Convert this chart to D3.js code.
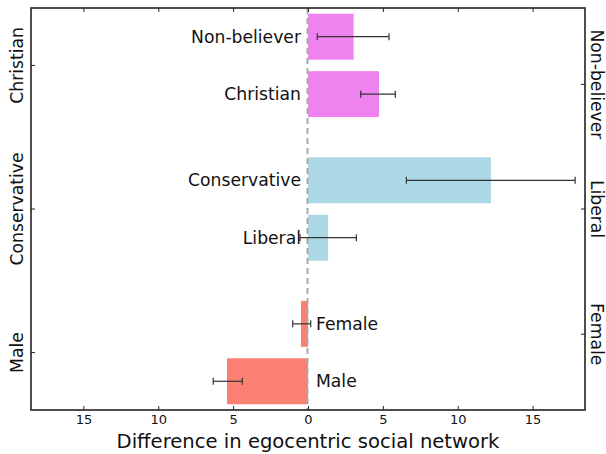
<!DOCTYPE html>
<html><head><meta charset="utf-8">
<script src="https://cdn.jsdelivr.net/npm/d3@7"></script>
<style>body{margin:0;background:#fff}svg{display:block}text{font-family:"DejaVu Sans",sans-serif;fill:#111}</style>
</head><body>
<script>
const categories = ["Male","Female","Liberal","Conservative","Christian","Non-believer"];
const positions = [0,1,2.5,3.5,5,6];
const values = [-5.41,-0.47,1.34,12.22,4.74,3.05];
const errLow = [-6.33,-1.02,-0.53,6.57,3.52,0.62];
const errHigh = [-4.39,0.18,3.23,17.84,5.83,5.41];
const groups = ["gender","gender","politics","politics","religion","religion"];
const groupColors = {gender:"#FA8072",politics:"#ADD8E6",religion:"#EE82EE"};
const xTicks = [-15,-10,-5,0,5,10,15];
const leftTickLabels = ["Male","Conservative","Christian"];
const leftTickPos = [0.5,3.0,5.5];
const rightTickLabels = ["Female","Liberal","Non-believer"];
const rightTickPos = [0.82,3.0,5.17];
const xLabel = "Difference in egocentric social network";

const W=606,H=454;
const m={l:31,r:21,t:8,b:44};
const svg=d3.select("body").append("svg").attr("width",W).attr("height",H);
const x=d3.scaleLinear().domain([-18.5,18.5]).range([m.l,W-m.r]);
const y=d3.scaleLinear().domain([-0.5,6.5]).range([H-m.b,m.t]);
const bh=y(0)-y(0.8);

const g=svg.append("g");
// bars
g.selectAll("rect.bar").data(categories).join("rect")
 .attr("x",(d,i)=>x(Math.min(0,values[i])))
 .attr("width",(d,i)=>Math.abs(x(values[i])-x(0)))
 .attr("y",(d,i)=>y(positions[i])-bh/2)
 .attr("height",bh)
 .attr("fill",(d,i)=>groupColors[groups[i]]);
// zero dashed line
g.append("line").attr("x1",x(0)-0.5).attr("x2",x(0)-0.5).attr("y1",m.t).attr("y2",H-m.b)
 .attr("stroke","#aaa").attr("stroke-width",2).attr("stroke-dasharray","6,4");
// error bars
const eb=g.selectAll("g.eb").data(categories).join("g");
eb.append("line").attr("x1",(d,i)=>x(errLow[i])).attr("x2",(d,i)=>x(errHigh[i]))
 .attr("y1",(d,i)=>y(positions[i])).attr("y2",(d,i)=>y(positions[i])).attr("stroke","#333").attr("stroke-width",1.2);
[errLow,errHigh].forEach(arr=>{
 eb.append("line").attr("x1",(d,i)=>x(arr[i])).attr("x2",(d,i)=>x(arr[i]))
  .attr("y1",(d,i)=>y(positions[i])-3.5).attr("y2",(d,i)=>y(positions[i])+3.5).attr("stroke","#333").attr("stroke-width",1.2);
});
// bar labels
g.selectAll("text.bl").data(categories).join("text")
 .attr("x",(d,i)=>values[i]>=0?x(0)-7:x(0)+8)
 .attr("y",(d,i)=>y(positions[i]))
 .attr("dy","0.36em")
 .attr("text-anchor",(d,i)=>values[i]>=0?"end":"start")
 .attr("font-size",17.2).text(d=>d);

// frame
svg.append("rect").attr("x",m.l).attr("y",m.t).attr("width",W-m.r-m.l).attr("height",H-m.b-m.t)
 .attr("fill","none").attr("stroke","#222").attr("stroke-width",1.6);

// x axes (ticks inward)
const xb=svg.append("g").attr("transform",`translate(0,${H-m.b})`)
 .call(d3.axisBottom(x).tickValues(xTicks).tickSize(-4).tickPadding(5).tickFormat(d=>Math.abs(d)));
const xt=svg.append("g").attr("transform",`translate(0,${m.t})`)
 .call(d3.axisTop(x).tickValues(xTicks).tickSize(-4).tickFormat(""));
[xb,xt].forEach(a=>{a.select(".domain").remove();a.selectAll("line").attr("stroke","#222");});
xb.selectAll("text").attr("font-size",13).attr("fill","#111").attr("y",5).attr("dy","0.71em");

// left axis
const yl=svg.append("g").attr("transform",`translate(${m.l},0)`)
 .call(d3.axisLeft(y).tickValues(leftTickPos).tickSize(-4).tickFormat((d,i)=>leftTickLabels[i]));
yl.select(".domain").remove();yl.selectAll("line").attr("stroke","#222");
yl.selectAll(".tick").attr("transform","translate(0,0)");
yl.selectAll(".tick line").attr("y1",d=>y(d)).attr("y2",d=>y(d));
yl.selectAll("text").attr("font-size",17.2).attr("fill","#111")
 .attr("transform",d=>`translate(${17-m.l},${y(d)}) rotate(-90)`).attr("x",0).attr("y",0).attr("dy","0.36em").attr("text-anchor","middle");

// right axis
const yr=svg.append("g").attr("transform",`translate(${W-m.r},0)`)
 .call(d3.axisRight(y).tickValues(rightTickPos).tickSize(-4).tickFormat((d,i)=>rightTickLabels[i]));
yr.select(".domain").remove();yr.selectAll("line").attr("stroke","#222");
yr.selectAll(".tick").attr("transform","translate(0,0)");
yr.selectAll(".tick line").attr("y1",d=>y(d)).attr("y2",d=>y(d));
yr.selectAll("text").attr("font-size",17.2).attr("fill","#111")
 .attr("transform",d=>`translate(${597-(W-m.r)},${y(d)}) rotate(90)`).attr("x",0).attr("y",0).attr("dy","0.36em").attr("text-anchor","middle");

// x label
svg.append("text").attr("x",x(0)).attr("y",447.5).attr("text-anchor","middle").attr("font-size",19.6).text(xLabel);
</script>
</body></html>
